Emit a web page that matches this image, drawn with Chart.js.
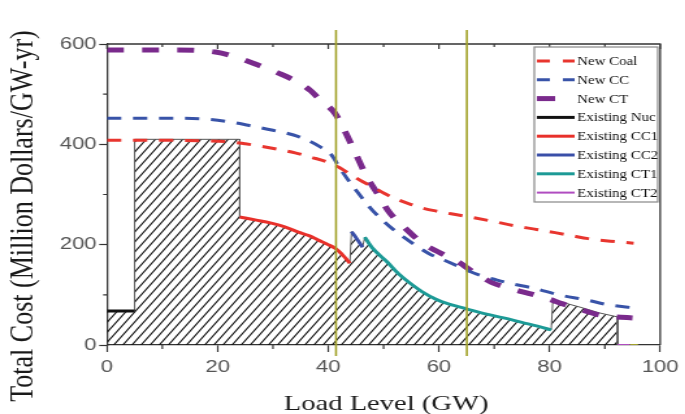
<!DOCTYPE html>
<html lang="en">
<head>
    <meta charset="UTF-8">
    <title>Total Cost vs Load Level</title>
    <script src="https://cdn.jsdelivr.net/npm/chart.js@4/dist/chart.umd.min.js"></script>
    <style>
        html, body { margin: 0; padding: 0; background: #fff; overflow: hidden; }
        /* the original figure is stretched sideways, so the canvas is too */
        #chart { display: block; transform: scaleX(1.3); transform-origin: 0 0; }
    </style>
</head>
<body>
    <canvas id="chart" width="527" height="414"></canvas>
    <script>
        // values: [load GW, cost]
        const newCoal = [[0,408],[12,408],[18,407],[22,405],[25,401],[28,396],[31,390],[34,383],[37,374],[40,364],[42,354],[44,340],[46,327],[48.4,313],[50,303],[52.3,291],[55,280],[57,273],[60,266],[63,260],[66.6,253],[70,246],[73.5,238],[77.3,231],[81,224],[84,218],[87,212],[91,207],[95.2,203]];
        const newCC = [[0,452],[12,452],[18,450],[22,445],[25.5,438],[30,428],[34.5,416],[38.7,394],[40.5,380],[42.3,349],[44,323],[45.7,299],[47.7,272],[49.8,249],[51.8,230],[53.9,213],[56,197],[58.4,181],[61,169],[63.5,157],[65.5,147],[67.4,139],[70,131],[72.8,123],[77.2,113],[81.7,100],[86.6,90],[90.7,80],[95.3,74]];
        const newCT = [[0,588],[12,588],[19.6,584],[23,575],[27.3,558],[31,542],[34.5,524],[36.8,507],[38.6,488],[41.2,462],[43.2,422],[44.8,385],[47,335],[49,300],[51,265],[54,232],[57,203],[60,185],[63.6,165],[66,147],[69.5,125],[72.8,113],[76.2,103],[79.5,93],[82.4,82],[85.6,71],[88.9,60],[92,56],[95,54]];
        const existingNuc = [[0,68],[5,68]];
        const coalBlock = [[5,68],[5,410],[24,410]];
        const existingCC1 = [[24,255],[27,249],[29.7,243],[32,236],[34.6,225],[36.5,218],[38.2,209],[40,200],[41.2,193],[42.3,183],[43.2,172],[43.9,163]];
        const existingCC2 = [[44.2,226],[45.2,211],[46.2,195]];
        const existingCT1 = [[46.6,215],[48,193],[50.7,165],[52.7,142],[54.8,123],[57,106],[59.7,90],[62,81],[65,72],[68,63],[71.7,54],[75,45],[78,37],[80.3,30]];
        const ct2Block = [[80.6,90],[83,83],[86,74],[89,64],[92.3,56],[92.3,0]];
        const existingCT2 = [[92.3,0],[94.5,0]];
        const otherTail = [[94.5,0],[96,0]];
        const markerLoads = [41.4, 65.05];
        const xTicks = [0, 20, 40, 60, 80, 100];
        const yTicks = [0, 200, 400, 600];

        const pts = arr => arr.map(p => ({x: p[0], y: p[1]}));

        // hatched area under the existing units
        const hatchArea = [].concat([[0,68]], coalBlock, existingCC1, existingCC2, existingCT1, ct2Block);

        function makeHatch() {
            const c = document.createElement('canvas');
            c.width = 7; c.height = 10;
            const g = c.getContext('2d');
            g.strokeStyle = '#111';
            g.lineWidth = 1.1;
            g.beginPath();
            g.moveTo(-1, 10 + 10/7); g.lineTo(8, -10/7);
            g.moveTo(-8, 10 + 10/7); g.lineTo(1, -10/7);
            g.moveTo(6, 10 + 10/7); g.lineTo(15, -10/7);
            g.stroke();
            return g.createPattern(c, 'repeat');
        }

        const olive = '#a2a22a';

        const extras = {
            id: 'extras',
            afterDatasetsDraw(chart) {
                const {ctx, chartArea: a, scales: {x, y}} = chart;
                ctx.save();
                // top and right frame
                ctx.strokeStyle = '#333';
                ctx.lineWidth = 1.3;
                ctx.beginPath();
                ctx.moveTo(a.left, a.top); ctx.lineTo(a.right, a.top); ctx.lineTo(a.right, a.bottom);
                ctx.stroke();
                // minor ticks
                ctx.lineWidth = 1.2;
                ctx.beginPath();
                [100, 300, 500].forEach(v => {
                    const py = y.getPixelForValue(v);
                    ctx.moveTo(a.left - 3, py); ctx.lineTo(a.left, py);
                });
                [10, 30, 50, 70, 90].forEach(v => {
                    const px = x.getPixelForValue(v);
                    ctx.moveTo(px, a.bottom); ctx.lineTo(px, a.bottom + 4);
                    ctx.moveTo(px, a.top); ctx.lineTo(px, a.top + 3);
                });
                xTicks.forEach(v => {
                    const px = x.getPixelForValue(v);
                    ctx.moveTo(px, a.top); ctx.lineTo(px, a.top + 5);
                });
                ctx.stroke();
                // vertical marker lines
                ctx.strokeStyle = olive;
                ctx.lineWidth = 1.6;
                ctx.beginPath();
                markerLoads.forEach(v => {
                    const px = x.getPixelForValue(v);
                    ctx.moveTo(px, 30); ctx.lineTo(px, 356);
                });
                ctx.stroke();
                ctx.restore();
            },
            afterDraw(chart) {
                const ctx = chart.ctx;
                ctx.save();
                // axis titles
                ctx.fillStyle = '#1a1a1a';
                ctx.font = '26px "Liberation Serif"';
                ctx.textAlign = 'center';
                ctx.textBaseline = 'middle';
                ctx.translate(18, 216);
                ctx.rotate(-Math.PI / 2);
                ctx.fillText('Total Cost (Million Dollars/GW-yr)', 0, 0);
                ctx.setTransform(1, 0, 0, 1, 0, 0);
                ctx.font = '22px "Liberation Serif"';
                ctx.textBaseline = 'alphabetic';
                ctx.fillText('Load Level (GW)', 297, 410);
                // legend box
                const bx = 411, by = 47, bw = 95, bh = 155;
                ctx.fillStyle = '#fff';
                ctx.fillRect(bx, by, bw, bh);
                ctx.strokeStyle = '#888';
                ctx.lineWidth = 1.2;
                ctx.strokeRect(bx, by, bw, bh);
                const items = chart.data.datasets.filter(d => d.label);
                items.forEach((d, i) => {
                    const ry = 61 + i * 18.8;
                    ctx.strokeStyle = d.borderColor;
                    ctx.lineWidth = d.borderWidth;
                    ctx.setLineDash(d.legendDash || d.borderDash || []);
                    ctx.beginPath();
                    ctx.moveTo(413, ry); ctx.lineTo(442, ry);
                    ctx.stroke();
                    ctx.setLineDash([]);
                    ctx.fillStyle = '#111';
                    ctx.font = '11.5px "Liberation Serif"';
                    ctx.textAlign = 'left';
                    ctx.textBaseline = 'middle';
                    ctx.fillText(d.label, 444, ry + 1);
                });
                ctx.restore();
            }
        };

        const curve = (label, data, color, width, dash, legendDash) => ({
            label, data: pts(data), borderColor: color, borderWidth: width,
            borderDash: dash, legendDash, fill: false, pointRadius: 0,
            cubicInterpolationMode: 'monotone', order: 1
        });

        Chart.defaults.font.family = '"Liberation Sans"';

        new Chart(document.getElementById('chart'), {
            type: 'line',
            data: {
                datasets: [
                    curve('New Coal', newCoal, '#e8352e', 3, [11, 9], [10, 10]),
                    curve('New CC', newCC, '#3853a8', 3, [11, 9], [10, 10]),
                    curve('New CT', newCT, '#7a2a8c', 5, [13, 14], [14, 20]),
                    curve('Existing Nuc', existingNuc, '#111', 3, []),
                    curve('Existing CC1', existingCC1, '#e8302a', 3, []),
                    curve('Existing CC2', existingCC2, '#3a4fa8', 3, []),
                    curve('Existing CT1', existingCT1, '#1c9a96', 3, []),
                    curve('Existing CT2', existingCT2, '#b04cc0', 2, []),
                    curve('', otherTail, olive, 2, []),
                    {
                        label: '', data: pts(hatchArea), borderColor: '#555', borderWidth: 1,
                        backgroundColor: makeHatch(), fill: 'origin', pointRadius: 0, tension: 0, order: 5
                    }
                ]
            },
            options: {
                responsive: false,
                animation: false,
                devicePixelRatio: 1,
                layout: { padding: { top: 44, right: 15.5, left: 0, bottom: 0 } },
                plugins: { legend: { display: false }, tooltip: { enabled: false } },
                scales: {
                    x: {
                        type: 'linear', min: 0, max: 100,
                        afterBuildTicks: s => { s.ticks = xTicks.map(v => ({value: v})); },
                        afterFit: s => { s.height = 69; },
                        ticks: { color: '#555', font: { size: 17 }, padding: 5, maxRotation: 0 },
                        grid: { drawOnChartArea: false, tickLength: 7, tickColor: '#333', tickWidth: 1.2 },
                        border: { color: '#333', width: 1.3 }
                    },
                    y: {
                        min: 0, max: 600,
                        afterBuildTicks: s => { s.ticks = yTicks.map(v => ({value: v})); },
                        afterFit: s => { s.width = 82.3; },
                        ticks: { color: '#555', font: { size: 17 }, padding: 2 },
                        grid: { drawOnChartArea: false, tickLength: 6, tickColor: '#333', tickWidth: 1.2 },
                        border: { color: '#333', width: 1.3 }
                    }
                }
            },
            plugins: [extras]
        });
    </script>
</body>
</html>
